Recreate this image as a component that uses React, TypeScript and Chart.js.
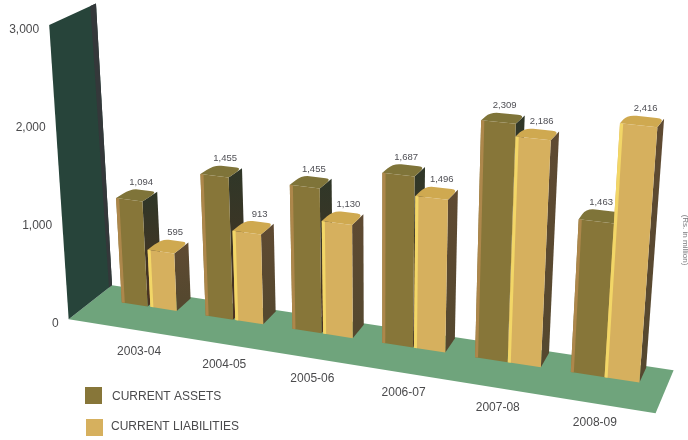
import { useEffect, useRef } from "react";
import { Chart, registerables } from "chart.js";

Chart.register(...registerables);

const years = ["2003-04", "2004-05", "2005-06", "2006-07", "2007-08", "2008-09"];
const currentAssets = [1094, 1455, 1455, 1687, 2309, 1463];
const currentLiabilities = [595, 913, 1130, 1496, 2186, 2416];
const valueTicks = [0, 1000, 2000, 3000];

const assetPalette = { front: "#877639", edge: "#ad874b", cap: "#7f7439", sideTop: "#2f3728", sideBottom: "#4a3322" };
const liabilityPalette = { front: "#d6b05e", edge: "#f2d667", cap: "#cfa950", sideTop: "#5f4a32", sideBottom: "#55482f" };

const formatter = new Intl.NumberFormat("en-US");

// Oblique view of the floor plane: u runs along the categories (0..1),
// z runs into the page, with z=0 on the bars' front faces and z=1 on their rear faces.
function floorPoint(u: number, z: number) {
  const x = 107.6 + 493 * u + 54 * u * u;
  const y = 283.5 + 0.155 * x;
  return { x: x + z * (15 - 8.5 * u), y: y + z * (-12 - 3 * u) };
}

// Lifts a floor point by a share of the value axis; uprights fan out from the centre
// and shrink a little as they recede.
function project(u: number, z: number, share: number, gain = 1) {
  const p = floorPoint(u, z);
  const rise = share * gain * (285 + 33 * u) * (1 - 0.025 * Math.max(z, 0));
  const fan = p.x > 380 ? 3700 : 4700;
  return { x: p.x + ((p.x - 380) * rise) / fan, y: p.y - rise };
}

type Pt = { x: number; y: number };

function fillPoly(ctx: CanvasRenderingContext2D, pts: Pt[], fill: string | CanvasGradient) {
  ctx.beginPath();
  pts.forEach((p, i) => (i ? ctx.lineTo(p.x, p.y) : ctx.moveTo(p.x, p.y)));
  ctx.closePath();
  ctx.fillStyle = fill;
  ctx.fill();
}

function mix(a: Pt, b: Pt, t: number): Pt {
  return { x: a.x + (b.x - a.x) * t, y: a.y + (b.y - a.y) * t };
}

function drawPrism(ctx: CanvasRenderingContext2D, u0: number, u1: number, share: number, c: typeof assetPalette) {
  const fbl = project(u0, 0, 0);
  const fbr = project(u1, 0, 0);
  const bbr = project(u1, 1, 0);
  const ftl = project(u0, 0, share);
  const ftr = project(u1, 0, share);
  const btr = project(u1, 1, share);
  const btl = project(u0, 1, share);

  const sideFill = ctx.createLinearGradient(0, btr.y, 0, bbr.y);
  sideFill.addColorStop(0, c.sideTop);
  sideFill.addColorStop(1, c.sideBottom);
  fillPoly(ctx, [fbr, bbr, btr, ftr], sideFill);

  // Top face with softened rear corners
  ctx.beginPath();
  ctx.moveTo(ftl.x, ftl.y);
  const a = mix(btl, ftl, 0.55);
  const b = mix(btl, btr, 0.25);
  const d = mix(btr, btl, 0.2);
  const e = mix(btr, ftr, 0.45);
  ctx.lineTo(a.x, a.y);
  ctx.quadraticCurveTo(btl.x, btl.y, b.x, b.y);
  ctx.lineTo(d.x, d.y);
  ctx.quadraticCurveTo(btr.x, btr.y, e.x, e.y);
  ctx.lineTo(ftr.x, ftr.y);
  ctx.closePath();
  ctx.fillStyle = c.cap;
  ctx.fill();

  fillPoly(ctx, [fbl, fbr, ftr, ftl], c.front);
  const stripe = 3 / Math.max(1, fbr.x - fbl.x);
  fillPoly(ctx, [fbl, mix(fbl, fbr, stripe), mix(ftl, ftr, stripe), ftl], c.edge);
}

const scene3d = {
  id: "scene3d",
  beforeDatasetsDraw(chart: any) {
    const { ctx, chartArea, scales } = chart;
    const toU = (px: number) => (px - chartArea.left) / chartArea.width;
    const toShare = (px: number) => (scales.y.bottom - px) / scales.y.height;

    const uL = -0.025;
    const uR = 1.02;
    const zF = -1.75;
    const zB = 1.1;
    const wallGain = 1.035;
    const wallRearShare = 0.985;

    ctx.save();

    // Floor
    fillPoly(ctx, [project(uL, zF, 0), project(uR, zF, 0), project(uR, zB, 0), project(uL, zB, 0)], "#6fa47c");

    // Back wall seen edge-on, spanning the full value axis
    const wallFrontTop = project(uL, zF, 1, wallGain);
    const wallRearTop = project(uL, zB, wallRearShare, wallGain);
    fillPoly(ctx, [project(uL, zF, 0), project(uL, zB, 0), wallRearTop, wallFrontTop], "#27443a");
    const stripTop = mix(wallRearTop, wallFrontTop, 0.12);
    const stripBottom = mix(project(uL, zB, 0), project(uL, zF, 0), 0.07);
    fillPoly(ctx, [stripBottom, project(uL, zB, 0), wallRearTop, stripTop], "#34383a");

    // Value axis labels beside the wall
    ctx.font = "12px 'Liberation Sans', Arial, sans-serif";
    ctx.fillStyle = "#4a4a4c";
    ctx.textAlign = "right";
    ctx.textBaseline = "middle";
    scales.y.ticks.forEach((tick: any, i: number) => {
      const p = project(uL, zF, toShare(scales.y.getPixelForTick(i)), wallGain);
      ctx.fillText(tick.label, p.x - 10, p.y + 5);
    });

    // Category labels below the floor
    ctx.textAlign = "center";
    scales.x.ticks.forEach((tick: any, i: number) => {
      const p = floorPoint(toU(scales.x.getPixelForTick(i)), 0);
      ctx.fillText(tick.label, p.x - 10, p.y + 45);
    });

    // Bars, rear categories first and the second series over the first;
    // nearer bars read slightly wider
    const palettes = [assetPalette, liabilityPalette];
    const metas = [chart.getDatasetMeta(0), chart.getDatasetMeta(1)];
    years.forEach((_, i) => {
      metas.forEach((meta, s) => {
        const bar = meta.data[i];
        const half = (bar.width / 2) * (0.93 + 0.14 * toU(bar.x));
        drawPrism(ctx, toU(bar.x - half), toU(bar.x + half), toShare(bar.y), palettes[s]);
      });
    });

    // Value labels above each bar
    ctx.font = "9.5px 'Liberation Sans', Arial, sans-serif";
    ctx.fillStyle = "#4f4f55";
    ctx.textBaseline = "middle";
    metas.forEach((meta, s) => {
      meta.data.forEach((bar: any, i: number) => {
        const p = project(toU(bar.x), 1, toShare(bar.y));
        ctx.fillText(formatter.format(chart.data.datasets[s].data[i]), p.x - (s === 0 ? 3 : 0), p.y - 8);
      });
    });

    // Legend
    ctx.font = "12px 'Liberation Sans', Arial, sans-serif";
    ctx.textAlign = "left";
    ctx.fillStyle = palettes[0].front;
    ctx.fillRect(85, 387, 17, 17);
    ctx.fillStyle = palettes[1].front;
    ctx.fillRect(86, 419, 17, 17);
    ctx.fillStyle = "#4a4a4c";
    ctx.fillText(chart.data.datasets[0].label, 112, 397);
    ctx.fillText(chart.data.datasets[1].label, 111, 427);

    // Unit note running down the right margin
    ctx.save();
    ctx.translate(685, 240);
    ctx.rotate(Math.PI / 2);
    ctx.font = "8px 'Liberation Sans', Arial, sans-serif";
    ctx.textAlign = "center";
    ctx.fillStyle = "#77777b";
    ctx.fillText("(Rs. in million)", 0, 0);
    ctx.restore();

    ctx.restore();
    return false;
  },
};

export default function App() {
  const canvasRef = useRef<HTMLCanvasElement>(null);

  useEffect(() => {
    const chart = new Chart(canvasRef.current!, {
      type: "bar",
      data: {
        labels: years,
        datasets: [
          { label: "CURRENT ASSETS", data: currentAssets, backgroundColor: assetPalette.front },
          { label: "CURRENT LIABILITIES", data: currentLiabilities, backgroundColor: liabilityPalette.front },
        ],
      },
      options: {
        responsive: false,
        animation: false,
        categoryPercentage: 0.69,
        barPercentage: 0.96,
        layout: { padding: 0 },
        plugins: { legend: { display: false }, tooltip: { enabled: false } },
        scales: {
          x: { display: false, offset: true },
          y: {
            display: false,
            min: valueTicks[0],
            max: valueTicks[valueTicks.length - 1],
            ticks: { stepSize: 1000, callback: (v: any) => formatter.format(v) },
          },
        },
      },
      plugins: [scene3d],
    } as any);
    return () => chart.destroy();
  }, []);

  return (
    <div style={{ position: "absolute", left: 0, top: 0, width: 688, height: 440, background: "#fff" }}>
      <canvas ref={canvasRef} width={688} height={440} />
    </div>
  );
}
